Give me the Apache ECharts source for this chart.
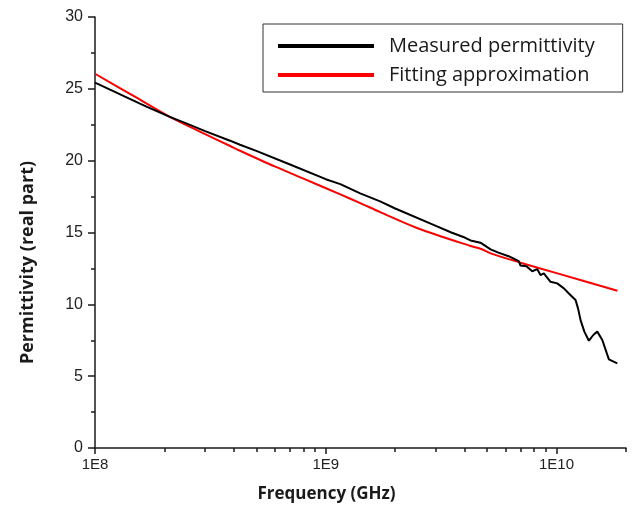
<!DOCTYPE html>
<html>
<head>
<meta charset="utf-8">
<script src="https://cdn.jsdelivr.net/npm/echarts@6/dist/echarts.min.js"></script>
<style>
html,body{margin:0;padding:0;background:#fff;}
#chart{width:638px;height:511px;}
</style>
</head>
<body>
<div id="chart"></div>
<script>
// Measured permittivity (frequency, real part)
const measuredFreq = [1.0e8, 1.2e8, 1.4e8, 1.68e8, 2.11e8, 2.5e8, 3.0e8, 3.85e8, 4.25e8, 5.0e8, 7.0e8, 1.0e9, 1.156e9, 1.41e9, 1.72e9, 2.0e9, 3.0e9, 3.5e9, 4.0e9, 4.24e9, 4.68e9, 5.18e9, 5.6e9, 6.2e9, 6.86e9, 6.98e9, 7.4e9, 7.85e9, 8.25e9, 8.52e9, 8.81e9, 9.42e9, 1.007e10, 1.076e10, 1.131e10, 1.209e10, 1.24e10, 1.271e10, 1.32e10, 1.381e10, 1.45e10, 1.502e10, 1.579e10, 1.686e10, 1.834e10];
const measuredVal  = [25.43, 24.84, 24.34, 23.75, 23.05, 22.58, 22.06, 21.39, 21.11, 20.68, 19.73, 18.71, 18.37, 17.72, 17.17, 16.67, 15.46, 15.0, 14.65, 14.45, 14.29, 13.83, 13.6, 13.35, 13.0, 12.7, 12.65, 12.3, 12.45, 12.04, 12.16, 11.57, 11.46, 11.11, 10.75, 10.3, 9.7, 8.9, 8.1, 7.47, 7.9, 8.1, 7.52, 6.17, 5.89];
// Fitting approximation
const fitFreq = [1.0e8, 1.5e8, 2.11e8, 3.0e8, 3.85e8, 4.25e8, 6.0e8, 8.0e8, 1.156e9, 1.41e9, 1.72e9, 2.5e9, 4.24e9, 4.68e9, 5.18e9, 6.98e9, 1.0e10, 1.834e10];
const fitVal  = [26.05, 24.42, 23.05, 21.85, 21.02, 20.69, 19.6, 18.75, 17.65, 17.05, 16.42, 15.3, 14.06, 13.87, 13.55, 12.9, 12.17, 10.95];
// Axis ticks
const xMajorTicks = [1e8, 1e9, 1e10];
const xMinorTicks = [2e8,3e8,4e8,5e8,6e8,7e8,8e8,9e8,2e9,3e9,4e9,5e9,6e9,7e9,8e9,9e9,2e10];
const seriesNames = ['Measured permittivity', 'Fitting approximation'];

const zip = (a, b) => a.map((v, i) => [v, b[i]]);
const chart = echarts.init(document.getElementById('chart'), null, {renderer: 'canvas'});
const axisColor = '#1a1a1a';
const labelFont = 'Liberation Sans, Arial, sans-serif';
const titleFont = 'Open Sans, Lato, sans-serif';

chart.setOption({
  animation: false,
  backgroundColor: '#ffffff',
  grid: {left: 95, top: 17, right: 12, bottom: 63, containLabel: false},
  legend: {
    orient: 'vertical',
    left: 263, top: 24,
    data: seriesNames,
    icon: 'rect',
    itemWidth: 96, itemHeight: 4,
    itemGap: 9,
    padding: [12, 28, 7, 15],
    borderColor: '#333', borderWidth: 1,
    textStyle: {fontFamily: titleFont, fontSize: 20, color: '#1a1a1a', padding: [0, 0, 0, 10]}
  },
  xAxis: [{
    type: 'log', logBase: 10, min: 1e8, max: 2e10,
    position: 'bottom',
    name: 'Frequency (GHz)', nameLocation: 'middle', nameGap: 38,
    nameTextStyle: {fontFamily: titleFont, fontWeight: 'bold', fontSize: 17, color: '#1a1a1a', padding: [0, 68, 0, 0]},
    axisLine: {show: true, onZero: false, lineStyle: {color: axisColor, width: 1.5}},
    axisTick: {show: true, inside: false, length: 6, customValues: xMajorTicks, lineStyle: {color: axisColor, width: 1.5}},
    axisLabel: {show: true, customValues: xMajorTicks, margin: 9, fontFamily: labelFont, fontSize: 15, color: '#222',
      formatter: v => '1E' + Math.round(Math.log10(v))},
    splitLine: {show: false}
  }, {
    type: 'log', logBase: 10, min: 1e8, max: 2e10,
    position: 'bottom', offset: 0,
    axisLine: {show: false},
    axisTick: {show: true, inside: false, length: 4, customValues: xMinorTicks, lineStyle: {color: axisColor, width: 1.5}},
    axisLabel: {show: false},
    splitLine: {show: false}
  }],
  yAxis: {
    type: 'value', min: 0, max: 30, interval: 5,
    name: 'Permittivity (real part)', nameLocation: 'middle', nameGap: 58, nameRotate: 90,
    nameTextStyle: {fontFamily: titleFont, fontWeight: 'bold', fontSize: 18, color: '#1a1a1a', padding: [0, 60, 0, 0]},
    axisLine: {show: true, lineStyle: {color: axisColor, width: 1.5}},
    axisTick: {show: true, inside: false, length: 7, lineStyle: {color: axisColor, width: 1.5}},
    minorTick: {show: true, splitNumber: 2, length: 4, lineStyle: {color: axisColor, width: 1.5}},
    axisLabel: {fontFamily: labelFont, fontSize: 16, color: '#222', margin: 12},
    splitLine: {show: false}
  },
  series: [{
    name: seriesNames[0], type: 'line', xAxisIndex: 0,
    data: zip(measuredFreq, measuredVal),
    showSymbol: false, symbol: 'none',
    lineStyle: {color: '#000000', width: 2},
    itemStyle: {color: '#000000'},
    z: 3
  }, {
    name: seriesNames[1], type: 'line', xAxisIndex: 0,
    data: zip(fitFreq, fitVal),
    showSymbol: false, symbol: 'none', smooth: 0.3,
    lineStyle: {color: '#ff0000', width: 2},
    itemStyle: {color: '#ff0000'},
    z: 2
  }]
});
</script>
</body>
</html>
